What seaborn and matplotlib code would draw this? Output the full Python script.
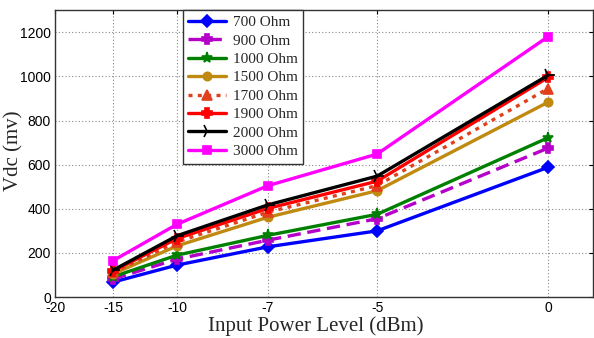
import numpy as np
import pandas as pd
import matplotlib
matplotlib.use("Agg")
import matplotlib.pyplot as plt
import seaborn as sns

# ---- data ----
power_dbm = [-15, -10, -7, -5, 0]
labels = ["700 Ohm", "900 Ohm", "1000 Ohm", "1500 Ohm", "1700 Ohm",
          "1900 Ohm", "2000 Ohm", "3000 Ohm"]
v700 = [68, 145, 228, 300, 588]
v900 = [82, 172, 258, 355, 675]
v1000 = [92, 190, 280, 375, 722]
v1500 = [105, 232, 362, 482, 883]
v1700 = [112, 250, 385, 505, 945]
v1900 = [118, 265, 402, 525, 995]
v2000 = [122, 278, 418, 548, 1005]
v3000 = [165, 330, 505, 648, 1180]
series = [v700, v900, v1000, v1500, v1700, v1900, v2000, v3000]
x_ticks = [-20, -15, -10, -7, -5, 0]
y_ticks = [0, 200, 400, 600, 800, 1000, 1200]

# ---- styles ----
colors = ["#0000FF", "#B400C8", "#008000", "#C08A10", "#E0401C",
          "#FF0000", "#000000", "#FF00FF"]
markers = ["D", "P", "*", "o", "^", "P", "4", "s"]
msizes = [6, 7, 8, 6, 7, 7, 10, 6]
lstyles = ["-", (0, (4, 2)), "-", "-", (0, (1.2, 1.6)), "-", "-", "-"]

# non-uniform x axis of the original figure (piecewise mapping)
knot_db = np.array([-25, -20, -15, -10, -7, -5, 0, 5], dtype=float)
knot_pos = np.array([-58, 0, 58, 122, 213, 322, 493, 664], dtype=float)

def fwd(x):
    return np.interp(x, knot_db, knot_pos)

def inv(p):
    return np.interp(p, knot_pos, knot_db)

sns.set_style("white")
plt.rcParams["font.family"] = ["Liberation Sans", "DejaVu Sans"]

fig = plt.figure(figsize=(5.94, 3.38), dpi=100)
ax = fig.add_axes([0.0926, 0.121, 0.905, 0.849])
ax.set_xscale("function", functions=(fwd, inv))

rows = []
for lab, vals in zip(labels, series):
    for x, v in zip(power_dbm, vals):
        rows.append({"x": x, "v": v, "s": lab})
df = pd.DataFrame(rows)

for i, lab in enumerate(labels):
    sub = df[df["s"] == lab]
    sns.lineplot(data=sub, x="x", y="v", ax=ax, color=colors[i],
                 marker=markers[i], markersize=msizes[i],
                 markeredgecolor=colors[i], markerfacecolor=colors[i],
                 linestyle=lstyles[i], linewidth=2.4, label=lab,
                 markeredgewidth=1.2)

ax.set_xlim(-20, 1.3)
ax.set_ylim(0, 1300)
ax.set_xticks(x_ticks)
ax.set_xticklabels([str(t) for t in x_ticks])
ax.set_yticks(y_ticks)
ax.set_yticklabels([str(t) for t in y_ticks])
ax.minorticks_off()
ax.tick_params(direction="in", top=True, right=True, length=3,
               labelsize=10, colors="black", pad=3)
for sp in ax.spines.values():
    sp.set_color("#333333")
    sp.set_linewidth(1.0)
ax.grid(True, linestyle=(0, (1, 2)), color="#888888", linewidth=0.8)

ax.set_xlabel("Input Power Level (dBm)", family="Liberation Serif",
              fontsize=15)
ax.xaxis.set_label_coords(0.485, -0.068)
ax.set_ylabel("Vdc (mv)", family="Liberation Serif", fontsize=15)
ax.yaxis.set_label_coords(-0.058, 0.51)

leg = ax.legend(loc="upper left", bbox_to_anchor=(0.238, 1.0),
                prop={"family": "Liberation Serif", "size": 11},
                frameon=True, fancybox=False, edgecolor="#333333",
                framealpha=1, borderpad=0.35, labelspacing=0.31,
                handlelength=2.5, handletextpad=0.4, borderaxespad=0)
leg.get_frame().set_linewidth(1.0)

fig.savefig("out.png", dpi=100)
